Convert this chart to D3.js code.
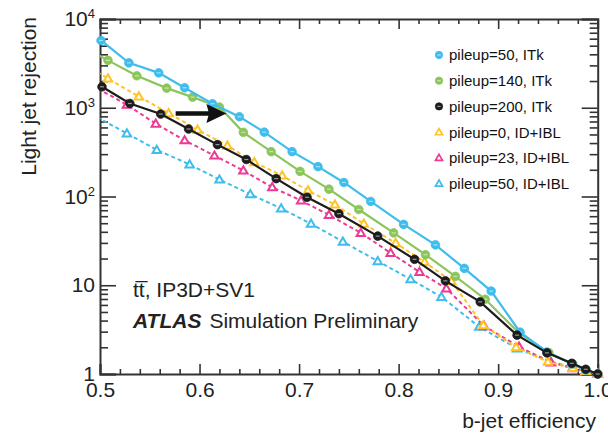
<!DOCTYPE html>
<html><head><meta charset="utf-8">
<script src="https://cdn.jsdelivr.net/npm/d3@7"></script>
<style>
html,body{margin:0;padding:0;background:#fff;}
svg{display:block;font-family:"Liberation Sans",Arial,Helvetica,sans-serif;}
</style></head>
<body>
<svg id="chart" width="608" height="434"></svg>
<script>
// ---------- data ----------
const seriesNames = ["pileup=50, ITk","pileup=140, ITk","pileup=200, ITk","pileup=0, ID+IBL","pileup=23, ID+IBL","pileup=50, ID+IBL"];
const seriesColors = ["#3fbdec","#8cc55a","#1c1c1c","#ffc324","#ec3b92","#3fbdec"];
const seriesMarkers = ["circle","circle","circle","triangle","triangle","triangle"];
const seriesDashed = [false,false,false,true,true,true];

const effITk50 = [0.501,0.529,0.559,0.585,0.613,0.640,0.665,0.693,0.719,0.745,0.772,0.805,0.837,0.866,0.893,0.922,0.949,0.974,0.988,1.0];
const rejITk50 = [5730,3205,2473,1679,1109,792,531,320,217,144,88,48.5,28.5,15.5,8.6,2.96,1.77,1.30,1.11,1.0];

const effITk140 = [0.479,0.508,0.537,0.567,0.593,0.620,0.644,0.672,0.701,0.730,0.760,0.795,0.827,0.857,0.887,0.921,0.951,0.975,0.988,1.0];
const rejITk140 = [5100,3420,2290,1665,1318,1018,528,320,192,121,71.4,38.9,22.1,12.6,6.96,2.89,1.74,1.30,1.11,1.0];

const effITk200 = [0.502,0.530,0.561,0.589,0.618,0.647,0.677,0.708,0.740,0.779,0.816,0.847,0.882,0.919,0.949,0.974,0.988,1.0];
const rejITk200 = [1722,1117,849,576,384,261,159,98,64,35.8,19.6,11.2,6.5,2.74,1.73,1.32,1.13,1.0];

const effIBL0 = [0.479,0.508,0.539,0.569,0.598,0.628,0.655,0.683,0.709,0.736,0.765,0.797,0.826,0.853,0.885,0.918,0.950,0.975,0.988,1.0];
const rejIBL0 = [3330,2135,1340,867,566,374,243,172,117,81,49.3,29.9,18.3,11.1,3.55,2.0,1.37,1.17,1.08,1.0];

const effIBL23 = [0.498,0.527,0.556,0.585,0.615,0.644,0.673,0.702,0.730,0.762,0.792,0.821,0.848,0.886,0.921,0.953,0.975,0.988,1.0];
const rejIBL23 = [1640,1081,661,429,289,196,127,90,62,38.9,23.1,14.1,9.18,3.46,2.03,1.35,1.16,1.08,1.01];

const effIBL50 = [0.497,0.527,0.557,0.590,0.620,0.651,0.682,0.712,0.744,0.779,0.812,0.843,0.881,0.919,0.953,0.975,0.988,1.0];
const rejIBL50 = [782,514,335,230,155,106,73.3,49.3,31,18.7,11.7,7.39,3.40,1.94,1.37,1.19,1.08,1.0];

const effArrays = [effITk50,effITk140,effITk200,effIBL0,effIBL23,effIBL50];
const rejArrays = [rejITk50,rejITk140,rejITk200,rejIBL0,rejIBL23,rejIBL50];

const xMajorTicks = [0.5,0.6,0.7,0.8,0.9,1.0];
const xTickLabels = ["0.5","0.6","0.7","0.8","0.9","1.0"];
const yMajorTicks = [1,10,100,1000,10000];
const yTickLabels = ["1","10","10^2","10^3","10^4"];
const arrowFrom = [0.576, 860];
const arrowTo = [0.627, 860];

// ---------- layout ----------
const W = 608, H = 434;
const m = {left:100, right:10.3, top:19, bottom:60};
const svg = d3.select("#chart");
const x = d3.scaleLinear().domain([0.5,1.0]).range([m.left, W - m.right]);
const y = d3.scaleLog().domain([1,10000]).range([H - m.bottom, m.top]);
const axisColor = "#333";
const textColor = "#222";

svg.append("defs").append("clipPath").attr("id","plotclip")
  .append("rect").attr("x",m.left).attr("y",m.top)
  .attr("width",x(1.0)-m.left).attr("height",y(1)-m.top);

// ---------- axes ----------
const xMinor = d3.range(0.5,1.0001,0.02).filter(v => !xMajorTicks.some(t=>Math.abs(t-v)<1e-6));
const yMinor = [];
for (let d of [1,10,100,1000]) for (let k=2;k<=9;k++) yMinor.push(d*k);

function styleAxis(g){
  g.select(".domain").attr("stroke",axisColor).attr("stroke-width",2);
  g.selectAll(".tick line").attr("stroke",axisColor).attr("stroke-width",1.6);
}

// bottom
const gb = svg.append("g").attr("transform",`translate(0,${y(1)})`);
gb.call(d3.axisBottom(x).tickValues(xMajorTicks).tickSize(-10).tickPadding(8)
  .tickFormat((d,i)=>xTickLabels[i]));
gb.append("g").call(d3.axisBottom(x).tickValues(xMinor).tickSize(-5).tickFormat(""))
  .call(g=>g.select(".domain").remove());
styleAxis(gb);
gb.selectAll("text").attr("font-size",21).attr("fill",textColor);

// top
const gt = svg.append("g").attr("transform",`translate(0,${m.top})`);
gt.call(d3.axisTop(x).tickValues(xMajorTicks).tickSize(-10).tickFormat(""));
gt.append("g").call(d3.axisTop(x).tickValues(xMinor).tickSize(-5).tickFormat(""))
  .call(g=>g.select(".domain").remove());
styleAxis(gt);

// left
const gl = svg.append("g").attr("transform",`translate(${m.left},0)`);
gl.call(d3.axisLeft(y).tickValues(yMajorTicks).tickSize(-16).tickPadding(5)
  .tickFormat((d,i)=>yTickLabels[i]));
gl.append("g").call(d3.axisLeft(y).tickValues(yMinor).tickSize(-8).tickFormat(""))
  .call(g=>g.select(".domain").remove());
styleAxis(gl);
gl.selectAll(".tick text").attr("font-size",21).attr("fill",textColor).each(function(){
  const t = d3.select(this); const s = t.text();
  if (s.includes("^")) {
    const [b,e] = s.split("^");
    t.text(null);
    t.append("tspan").text(b);
    t.append("tspan").attr("font-size",13).attr("dy","-0.62em").text(e);
  }
});

// right
const gr = svg.append("g").attr("transform",`translate(${x(1.0)},0)`);
gr.call(d3.axisRight(y).tickValues(yMajorTicks).tickSize(-16).tickFormat(""));
gr.append("g").call(d3.axisRight(y).tickValues(yMinor).tickSize(-8).tickFormat(""))
  .call(g=>g.select(".domain").remove());
styleAxis(gr);

// ---------- series ----------
const line = d3.line().x(d=>x(d[0])).y(d=>y(d[1]));
const order = [5,4,3,1,0,2];

function drawMarker(g, type, color, cx, cy, scale){
  scale = scale || 1;
  if (type === "circle") {
    g.append("circle").attr("cx",cx).attr("cy",cy).attr("r",4.3*scale)
      .attr("fill",color).attr("stroke",color).attr("stroke-width",0.8);
    g.append("line").attr("x1",cx-2*scale).attr("x2",cx+2*scale).attr("y1",cy).attr("y2",cy)
      .attr("stroke","#fff").attr("stroke-opacity",0.55).attr("stroke-width",1.2);
  } else {
    g.append("path").attr("d",d3.symbol().type(d3.symbolTriangle).size(30*scale*scale)())
      .attr("transform",`translate(${cx},${cy+0.6})`)
      .attr("fill","#fff").attr("stroke",color).attr("stroke-width",2*scale).attr("stroke-linejoin","miter");
  }
}

order.forEach(i=>{
  const pts = effArrays[i].map((e,j)=>[e, rejArrays[i][j]]);
  const g = svg.append("g");
  g.append("path").datum(pts).attr("d",line).attr("clip-path","url(#plotclip)")
    .attr("fill","none").attr("stroke",seriesColors[i])
    .attr("stroke-width", seriesDashed[i] ? 2 : 2.2)
    .attr("stroke-dasharray", seriesDashed[i] ? "4,3" : null);
  pts.filter(p=>p[0]>=0.5).forEach(p=>{
    drawMarker(g, seriesMarkers[i], seriesColors[i], x(p[0]), y(p[1]));
  });
});

// ---------- arrow ----------
{
  const x0 = x(arrowFrom[0]), y0 = y(arrowFrom[1]);
  const x1 = x(arrowTo[0]), y1 = y(arrowTo[1]);
  const hl = 18, hw = 9.5, sw = 2.2;
  svg.append("path")
    .attr("d",`M${x0},${y0-sw} L${x1-hl},${y1-sw} L${x1-hl-2},${y1-hw} L${x1},${y1} L${x1-hl-2},${y1+hw} L${x1-hl},${y1+sw} L${x0},${y0+sw} Z`)
    .attr("fill","#111");
}

// ---------- legend ----------
const legX = 439, legY0 = 55, legDy = 25.7;
seriesNames.forEach((n,i)=>{
  const g = svg.append("g");
  drawMarker(g, seriesMarkers[i], seriesColors[i], legX, legY0 + i*legDy, 0.85);
  g.append("text").attr("x",legX+10).attr("y",legY0+i*legDy).attr("dy","0.36em")
    .attr("font-size",15).attr("fill","#111").text(n);
});

// ---------- annotations ----------
svg.append("text").attr("x",133).attr("y",297).attr("font-size",21).attr("fill",textColor)
  .text("t\u0074\u0305, IP3D+SV1");
const at = svg.append("text").attr("x",133).attr("y",328).attr("font-size",21).attr("fill",textColor);
at.append("tspan").attr("font-weight","bold").attr("font-style","italic").text("ATLAS");
at.append("tspan").attr("dx",8).text("Simulation Preliminary");

// axis titles
svg.append("text").attr("x",W-12).attr("y",428).attr("text-anchor","end")
  .attr("font-size",21).attr("fill",textColor).text("b-jet efficiency");
svg.append("text").attr("transform","translate(36,17) rotate(-90)").attr("text-anchor","end")
  .attr("font-size",21).attr("fill",textColor).text("Light jet rejection");
</script>
</body></html>
